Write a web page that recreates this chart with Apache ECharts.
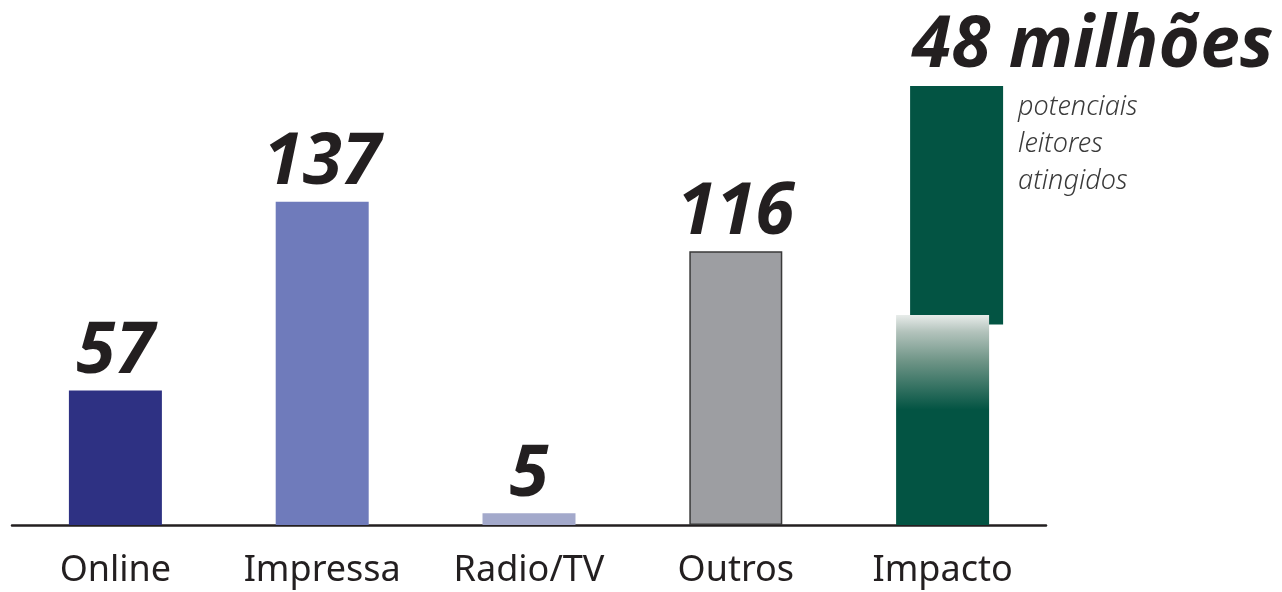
<!DOCTYPE html>
<html>
<head>
<meta charset="utf-8">
<script src="https://cdn.jsdelivr.net/npm/echarts@6/dist/echarts.min.js"></script>
<style>
html,body{margin:0;padding:0;background:#fff;}
#c{width:1282px;height:592px;}
</style>
</head>
<body>
<div id="c"></div>
<script>
const categories = ['Online', 'Impressa', 'Radio/TV', 'Outros', 'Impacto'];
const values = [57, 137, 5, 116, 89];
const valueLabels = ['57', '137', '5', '116', ''];
const barColors = ['#2e3183', '#6f7bbb', '#a3a9cb', '#9d9ea2', '#035443'];
const impactoBlock = [4, 85, 186];
const impactoTitle = '48 milhões';
const impactoNote = 'potenciais\nleitores\natingidos';

const chart = echarts.init(document.getElementById('c'), null, {renderer: 'canvas'});

const barData = values.map((v, i) => {
  const item = {value: v, itemStyle: {color: barColors[i]}};
  if (i === 3) { item.itemStyle.borderColor = '#3a3a3a'; item.itemStyle.borderWidth = 1.5; }
  if (i === 4) {
    item.itemStyle.color = new echarts.graphic.LinearGradient(0, 0, 0, 1, [
      {offset: 0, color: '#e8ecea'},
      {offset: 0.08, color: '#b3c3bc'},
      {offset: 0.22, color: '#6e9486'},
      {offset: 0.45, color: '#035443'},
      {offset: 1, color: '#035443'}
    ]);
  }
  return item;
});

chart.setOption({
  animation: false,
  backgroundColor: '#ffffff',
  grid: {left: 12, width: 1034, top: 53, bottom: 67, containLabel: false},
  xAxis: {
    type: 'category',
    data: categories,
    axisLine: {show: true, lineStyle: {color: '#231f20', width: 2.5}},
    axisTick: {show: false},
    axisLabel: {interval: 0, color: '#231f20', fontSize: 36, fontFamily: 'Noto Sans', margin: 28}
  },
  yAxis: {
    type: 'value', min: 0, max: 200,
    show: false, splitLine: {show: false}
  },
  series: [
    {
      type: 'bar',
      barWidth: 93,
      data: barData,
      label: {
        show: true,
        position: 'top',
        distance: 2,
        formatter: p => valueLabels[p.dataIndex],
        color: '#231f20',
        fontSize: 71,
        fontWeight: 'bold',
        fontStyle: 'italic',
        fontFamily: 'Noto Sans'
      }
    },
    {
      type: 'custom',
      data: [impactoBlock],
      encode: {x: 0, y: [1, 2]},
      renderItem: function (params, api) {
        const top = api.coord([api.value(0), api.value(2)]);
        const bot = api.coord([api.value(0), api.value(1)]);
        const w = 93, off = 14;
        const x0 = top[0] - w / 2 + off;
        return {
          type: 'group',
          children: [
            {type: 'rect', shape: {x: x0, y: top[1], width: w, height: bot[1] - top[1]},
             style: {fill: '#035443'}},
            {type: 'text', x: x0 + 2, y: top[1] - 4,
             style: {text: impactoTitle, fill: '#231f20', font: 'italic bold 71px "Noto Sans"',
                     textAlign: 'left', textVerticalAlign: 'bottom'}},
            {type: 'text', x: x0 + w + 15, y: top[1] + 3,
             style: {text: impactoNote, fill: '#3a3a3a', font: 'italic 300 27px "Noto Sans"',
                     lineHeight: 37, textAlign: 'left', textVerticalAlign: 'top'}}
          ]
        };
      }
    }
  ]
});
</script>
</body>
</html>
